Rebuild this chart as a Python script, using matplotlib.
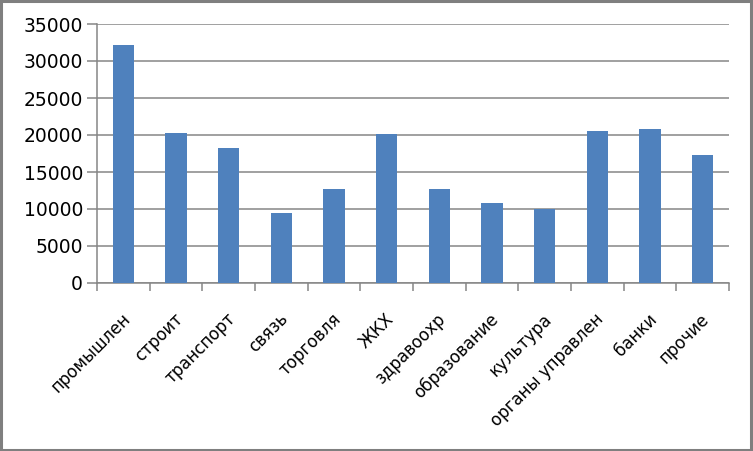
import matplotlib
matplotlib.use("Agg")
import matplotlib.pyplot as plt
import matplotlib.transforms as mtransforms
from matplotlib.patches import Rectangle

categories = ["промышлен", "строит", "транспорт", "связь", "торговля", "ЖКХ",
              "здравоохр", "образование", "культура", "органы управлен", "банки", "прочие"]
values = [32200, 20300, 18300, 9500, 12750, 20200, 12750, 10850, 9950, 20600, 20850, 17350]
yticks = [0, 5000, 10000, 15000, 20000, 25000, 30000, 35000]

plt.rcParams['font.family'] = ['DejaVu Sans']
fig = plt.figure(figsize=(7.53, 4.51), dpi=100)
ax = fig.add_axes([97/753, 1-283/451, (729-97)/753, (283-24)/451])

grid_c = "#868686"
x = list(range(len(categories)))
ax.bar(x, values, width=0.4, color="#4F81BD", zorder=3)
ax.set_xlim(-0.5, len(categories)-0.5)
ax.set_ylim(0, 35000)
ax.set_yticks(yticks)
ax.set_yticklabels([str(v) for v in yticks], fontsize=13.5)
ax.yaxis.grid(True, color=grid_c, linewidth=1.1, zorder=0)
ax.set_axisbelow(True)

for s in ["top", "right"]:
    ax.spines[s].set_visible(False)
for s in ["left", "bottom"]:
    ax.spines[s].set_color(grid_c)
    ax.spines[s].set_linewidth(1.1)

ax.tick_params(axis="y", length=7, width=1.1, color=grid_c, pad=3, direction="out")
ax.set_xticks(x)
ax.set_xticks([i - 0.5 for i in range(len(categories)+1)], minor=True)
ax.tick_params(axis="x", which="major", length=0, pad=24)
ax.tick_params(axis="x", which="minor", length=6, width=1.1, color=grid_c, direction="out")
labels = ax.set_xticklabels(categories, fontsize=12, rotation=45, ha="right",
                            va="center", rotation_mode="anchor")
off = mtransforms.ScaledTranslation(4/100, 0, fig.dpi_scale_trans)
for lab in labels:
    lab.set_transform(lab.get_transform() + off)

# outer chart border
fig.patches.append(Rectangle((0.0015, 0.0025), 0.9965, 0.995, transform=fig.transFigure,
                             fill=False, edgecolor="#7f7f7f", linewidth=2.2))

fig.savefig("out.png", dpi=100)
